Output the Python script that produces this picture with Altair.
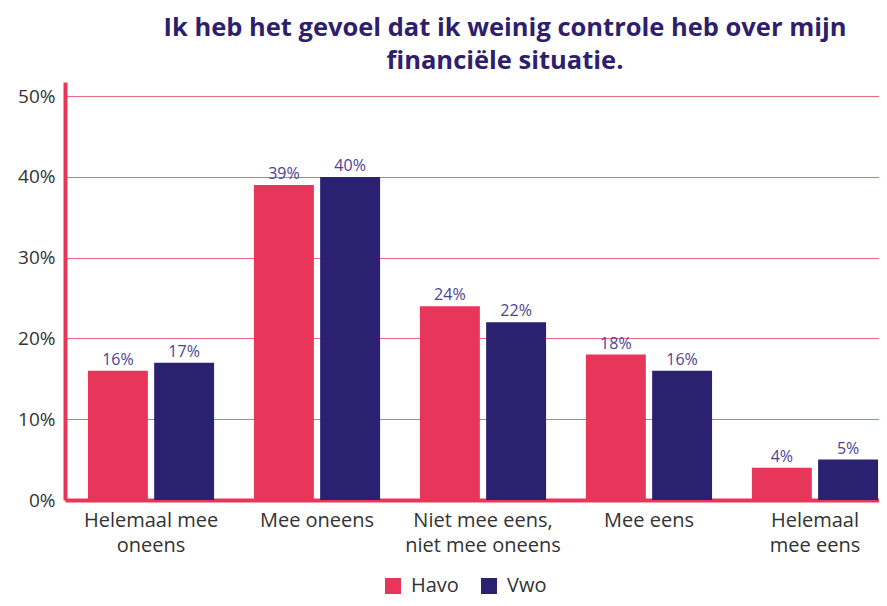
import altair as alt
import pandas as pd

categories = ["Helemaal mee\noneens", "Mee oneens", "Niet mee eens,\nniet mee oneens", "Mee eens", "Helemaal\nmee eens"]
havo = [16, 39, 24, 18, 4]
vwo = [17, 40, 22, 16, 5]
series = ["Havo", "Vwo"]
colors = ["#e8365a", "#2b2170"]
y_ticks = [0, 10, 20, 30, 40, 50]

rows = []
for c, h, v in zip(categories, havo, vwo):
    rows.append({"cat": c, "serie": "Havo", "val": h, "lab": f"{h}%"})
    rows.append({"cat": c, "serie": "Vwo", "val": v, "lab": f"{v}%"})
df = pd.DataFrame(rows)

FONT = "Open Sans"

x = alt.X("cat:N", sort=categories, title=None,
          scale=alt.Scale(paddingInner=0.24, paddingOuter=0.072, align=0.96),
          axis=alt.Axis(labelAngle=0, labelExpr="split(datum.label, '\\n')",
                        labelFontSize=20, labelColor="#333333", labelFont=FONT,
                        labelLineHeight=25, labelPadding=10, ticks=False,
                        domainColor="#e8365a", domainWidth=4, labelBaseline="top"))
y = alt.Y("val:Q", title=None,
          scale=alt.Scale(domain=[0, 51.75], nice=False, zero=True),
          axis=alt.Axis(values=y_ticks, labelExpr="datum.value + '%'",
                        labelFontSize=19, labelColor="#333333", labelFont=FONT,
                        labelPadding=10, ticks=False, domainColor="#e8365a",
                        domainWidth=4, gridColor="#e8365a", gridWidth=1,
                        gridOpacity=0.75))
xo = alt.XOffset("serie:N", sort=series, scale=alt.Scale(paddingInner=0.095, paddingOuter=0))
color = alt.Color("serie:N", sort=series, title=None,
                  scale=alt.Scale(domain=series, range=colors),
                  legend=alt.Legend(orient="none", legendX=318, legendY=494,
                                    direction="horizontal", symbolType="square",
                                    symbolSize=256, symbolStrokeWidth=0,
                                    labelFontSize=20, labelFont=FONT,
                                    labelColor="#333333", columnPadding=20,
                                    labelOffset=8))

bars = alt.Chart(df).mark_bar(opacity=1).encode(x=x, y=y, xOffset=xo, color=color)
texts = alt.Chart(df).mark_text(baseline="bottom", dy=-3, fontSize=16, font=FONT,
                                color="#4b4393").encode(x=x, y=y, xOffset=xo, text="lab:N")

chart = (bars + texts).properties(
    width=814, height=418,
    autosize=alt.AutoSizeParams(type="none"),
    padding={"left": 57, "top": 74, "right": 0, "bottom": 98},
    title=alt.TitleParams(
        ["Ik heb het gevoel dat ik weinig controle heb over mijn", "financiële situatie."],
        fontSize=25.5, font=FONT, fontWeight="bold", color="#2e1f6e",
        anchor="middle", dx=33, offset=8, lineHeight=33),
).configure_view(stroke=None).configure_axisX(grid=False)

chart.save("out.html", embed_options={"renderer": "svg", "actions": False})
